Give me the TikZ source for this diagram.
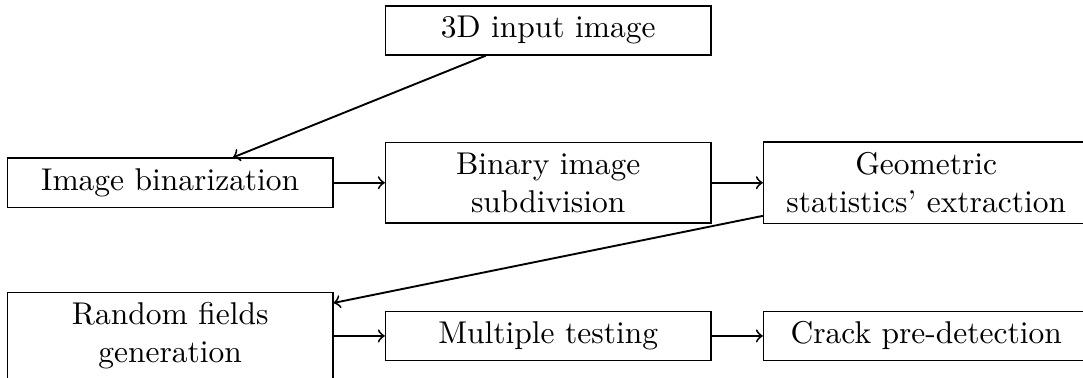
\documentclass[tikz,border=0pt]{standalone}
\usetikzlibrary{arrows}
\begin{document}
\begin{tikzpicture}[box/.style={draw, text width=3.4cm, align=center}, flow/.style={->, semithick}]
\useasboundingbox (-1.9,-2.17) rectangle (10.19,2.04);
\clip (-1.9,-2.17) rectangle (10.19,2.04);
\node[box] (input) at (4.22,1.70) {3D input image};
\node[box] (binarization) at (0,0) {Image binarization};
\node[box] (subdivision) at (4.22,0) {Binary image subdivision};
\node[box] (statistics) at (8.44,0) {Geometric\\ statistics' extraction};
\node[box] (fields) at (0,-1.71) {Random fields generation};
\node[box] (testing) at (4.22,-1.71) {Multiple testing};
\node[box] (crack) at (8.44,-1.71) {Crack pre-detection};
\draw[flow] (input) to (binarization);
\draw[flow] (binarization) to (subdivision);
\draw[flow] (subdivision) to (statistics);
\draw[flow] (statistics) to (fields);
\draw[flow] (fields) to (testing);
\draw[flow] (testing) to (crack);
\end{tikzpicture}
\end{document}
